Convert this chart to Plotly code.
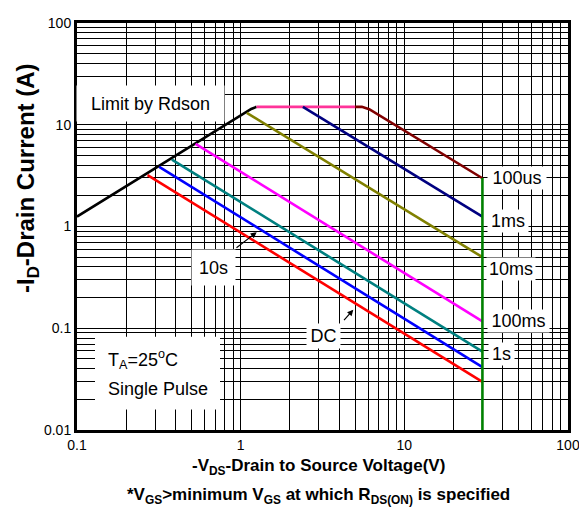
import plotly.graph_objects as go

# ---------------- data ----------------
rdson_v = [0.1, 1.16, 1.25]
rdson_i = [1.25, 14.3, 15.0]
flat_v = [1.25, 5.0]
flat_i = [15.0, 15.0]
us100_v = [5.0, 5.5, 6.1, 30]
us100_i = [15.0, 15.0, 14.2, 2.98]
ms1_v = [2.4, 30]
ms1_i = [15.0, 1.25]
ms10_v = [1.09, 30]
ms10_i = [13.1, 0.5]
ms100_v = [0.53, 30]
ms100_i = [6.5, 0.117]
s1_v = [0.38, 30]
s1_i = [4.55, 0.059]
s10_v = [0.318, 30]
s10_i = [3.86, 0.0414]
dc_v = [0.27, 30]
dc_i = [3.2, 0.0297]
vmax_v = [30, 30]
vmax_i = [3.0, 0.01]

x_ticks = [0.1, 1, 10, 100]
x_ticktext = ["0.1", "1", "10", "100"]
y_ticks = [0.01, 0.1, 1, 10, 100]
y_ticktext = ["0.01", "0.1", "1", "10", "100"]

series = [
    (rdson_v, rdson_i, "#000000"),
    (flat_v, flat_i, "#FF3399"),
    (us100_v, us100_i, "#800000"),
    (ms1_v, ms1_i, "#000080"),
    (ms10_v, ms10_i, "#808000"),
    (ms100_v, ms100_i, "#FF00FF"),
    (s1_v, s1_i, "#008080"),
    (s10_v, s10_i, "#0000FF"),
    (dc_v, dc_i, "#FF0000"),
    (vmax_v, vmax_i, "#008000"),
]

# ---------------- layout helpers ----------------
# page body has an 8px margin, so the figure is drawn 8px smaller and offset
OFF = 8
W, H = 587 - OFF, 515 - OFF
L, R, T, B = 77, 568, 15, 430          # plot area in page pixels
FONT = "Liberation Sans, Arial, sans-serif"


def px(xp):
    return (xp - L) / (R - L)


def py(yp):
    return (B - yp) / (B - T)


fig = go.Figure()
for xs, ys, c in series:
    fig.add_trace(go.Scatter(x=xs, y=ys, mode="lines",
                             line=dict(color=c, width=2.6),
                             showlegend=False, hoverinfo="skip"))

axis_common = dict(
    type="log",
    showgrid=True, gridcolor="black", gridwidth=1.2,
    showline=True, linecolor="black", linewidth=3, mirror=True,
    ticks="", zeroline=False,
    tickfont=dict(family=FONT, size=14, color="black"),
    minor=dict(dtick="D1", showgrid=True, gridcolor="black", gridwidth=1.2, ticks=""),
)

fig.update_xaxes(range=[-1, 2], tickvals=x_ticks, ticktext=x_ticktext, **axis_common)
fig.update_yaxes(range=[-2, 2], tickvals=y_ticks, ticktext=y_ticktext, **axis_common)

ann = []
lab_font = dict(family=FONT, size=18, color="black")


def box_label(text, x0, y0, x1, y1):
    ann.append(dict(text=text, xref="paper", yref="paper",
                    x=px((x0 + x1) / 2), y=py((y0 + y1) / 2),
                    xanchor="center", yanchor="middle",
                    width=x1 - x0, height=y1 - y0, borderpad=0,
                    bgcolor="white", showarrow=False, font=lab_font))


box_label("Limit by Rdson", 77, 80, 224, 115)
box_label("10s", 192, 247, 235, 282)
box_label("DC", 307, 322, 340, 346)
box_label("100us", 488, 162, 546, 184)
box_label("1ms", 488, 206, 528, 228)
box_label("10ms", 487, 255, 535, 277)
box_label("100ms", 488, 308, 549, 330)
box_label("1s", 489, 341, 514, 363)

# TA box
fig.add_shape(type="rect", xref="paper", yref="paper",
              x0=px(95), x1=px(220), y0=py(335), y1=py(409),
              fillcolor="white", line=dict(width=0), layer="above")
ann.append(dict(text="T<sub>A</sub>=25<sup>o</sup>C", xref="paper", yref="paper",
                x=px(106), y=py(358), xanchor="left", yanchor="middle",
                showarrow=False, font=lab_font))
ann.append(dict(text="Single Pulse", xref="paper", yref="paper",
                x=px(106), y=py(388), xanchor="left", yanchor="middle",
                showarrow=False, font=lab_font))

# arrows
ann.append(dict(text="", xref="paper", yref="paper", x=px(256.7), y=py(228.3),
                ax=-21.7, ay=16.7, showarrow=True, arrowhead=2, arrowsize=1,
                arrowwidth=1.2, arrowcolor="black", standoff=0))
ann.append(dict(text="", xref="paper", yref="paper", x=px(353.3), y=py(307.3),
                ax=-10.6, ay=12, showarrow=True, arrowhead=2, arrowsize=1,
                arrowwidth=1.2, arrowcolor="black", standoff=0))

# axis titles
ann.append(dict(text="<b>-I<sub>D</sub>-Drain Current (A)</b>", xref="paper", yref="paper",
                x=px(28), y=py(174), xanchor="center", yanchor="middle", textangle=-90,
                showarrow=False, font=dict(family=FONT, size=24, color="black")))
ann.append(dict(text="<b>-V<sub>DS</sub>-Drain to Source Voltage(V)</b>", xref="paper", yref="paper",
                x=px(318), y=py(468), xanchor="center", yanchor="middle",
                showarrow=False, font=dict(family=FONT, size=17, color="black")))
ann.append(dict(text="<b>*V<sub>GS</sub>>minimum V<sub>GS</sub> at which R<sub>DS(ON)</sub> is specified</b>",
                xref="paper", yref="paper",
                x=px(318), y=py(497), xanchor="center", yanchor="middle",
                showarrow=False, font=dict(family=FONT, size=17, color="black")))

fig.update_layout(
    width=W, height=H,
    margin=dict(l=L - OFF, r=(W + OFF) - R, t=T - OFF, b=(H + OFF) - B),
    paper_bgcolor="white", plot_bgcolor="white",
    annotations=ann, showlegend=False,
    font=dict(family=FONT, color="black"),
)

fig.write_html("out.html")
